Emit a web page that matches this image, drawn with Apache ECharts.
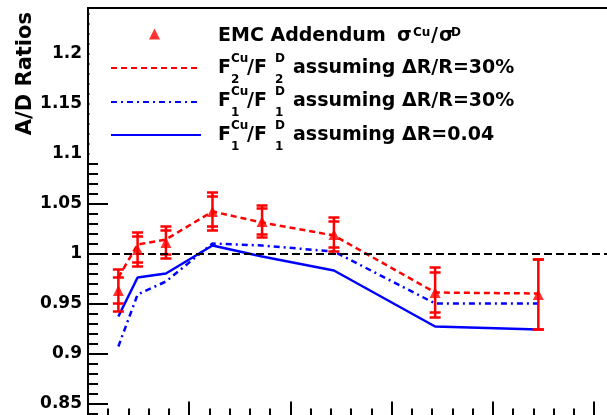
<!DOCTYPE html>
<html><head><meta charset="utf-8">
<script src="https://cdn.jsdelivr.net/npm/echarts@6/dist/echarts.min.js"></script>
<style>html,body{margin:0;padding:0;background:#fff}#c{width:607px;height:415px}</style>
</head><body><div id="c"></div>
<script>
// ---- data ----
const xValues   = [0.330, 0.349, 0.377, 0.423, 0.472, 0.543, 0.643, 0.745];
const emcRatio  = [0.963, 1.004, 1.011, 1.042, 1.032, 1.019, 0.961, 0.959];
const emcErrIn  = [0.013, 0.013, 0.012, 0.015, 0.013, 0.013, 0.020, 0.035];
const emcErrOut = [0.021, 0.017, 0.016, 0.019, 0.016, 0.017, 0.025, 0.035];
const f2Ratio30 = [0.976, 1.009, 1.014, 1.042, 1.031, 1.018, 0.961, 0.960];
const f1Ratio30 = [0.907, 0.959, 0.972, 1.010, 1.008, 1.002, 0.950, 0.950];
const f1RatioDR = [0.937, 0.976, 0.980, 1.008, 0.997, 0.983, 0.927, 0.924];
const refLine   = 1.0;
const yTickLabels = ['0.85','0.9','0.95','1','1.05','1.1','1.15','1.2'];

const FONT = 'DejaVu Sans';
const pair = (ys) => xValues.map((x, i) => [x, ys[i]]);

const chart = echarts.init(document.getElementById('c'), null, {renderer: 'canvas'});

function t(x, base, s, size) {
  return {type: 'text', z: 6, x: x, y: base - 0.35 * size,
    style: {text: s, font: 'bold ' + size + 'px "' + FONT + '"', fill: '#000',
      align: 'left', verticalAlign: 'middle', textAlign: 'left', textVerticalAlign: 'middle'}};
}
function fLine(base, sub, tail) {
  return [
    t(218, base, 'F', 19), t(231, base - 12, 'Cu', 12), t(231, base + 9, sub, 12),
    t(247, base, '/F', 19), t(275, base - 12, 'D', 12), t(275, base + 9, sub, 12),
    t(293, base, 'assuming', 19), t(402, base, tail, 19)
  ];
}

const graphics = [
  {type: 'rect', z: 3, shape: {x: 89.5, y: 9.5, width: 520, height: 149}, style: {fill: '#fff'}, silent: true},
  {type: 'text', z: 6, x: 26, y: 12, rotation: Math.PI / 2,
    style: {text: 'A/D Ratios', font: 'bold 21px "' + FONT + '"', fill: '#000',
      align: 'right', verticalAlign: 'middle', textAlign: 'right', textVerticalAlign: 'middle'}},
  t(218, 43, 'EMC Addendum', 19), t(397, 43, 'σ', 19), t(413, 37, 'Cu', 12),
  t(431, 43, '/', 19), t(439, 43, 'σ', 19), t(451, 37, 'D', 12)
].concat(fLine(75, '2', 'ΔR/R=30%'), fLine(108, '1', 'ΔR/R=30%'), fLine(142, '1', 'ΔR=0.04'));

function legendAt(name, top, h, left, w, hideSym) {
  const l = {data: [name], left: left, top: top - h / 2, itemWidth: w, itemHeight: h, padding: 0,
    itemGap: 0, selectedMode: false, z: 10, formatter: () => '', textStyle: {fontSize: 1}};
  if (hideSym) l.itemStyle = {opacity: 0, color: 'rgba(0,0,0,0)', borderWidth: 0};
  return l;
}

const option = {
  animation: false,
  backgroundColor: '#fff',
  grid: {left: 88, top: 8, right: -88.2, bottom: -38.5, outerBoundsMode: 'none', containLabel: false,
    show: true, borderColor: '#000', borderWidth: 2, backgroundColor: 'transparent'},
  xAxis: {
    type: 'value', min: 0.3, max: 0.9, interval: 0.1, offset: -35,
    axisLine: {show: true, lineStyle: {color: '#000', width: 2}},
    axisTick: {show: true, inside: true, length: 17, lineStyle: {color: '#000', width: 2}},
    minorTick: {show: true, splitNumber: 5, length: 10, lineStyle: {color: '#000', width: 2}},
    axisLabel: {show: false}, splitLine: {show: false}
  },
  yAxis: {
    type: 'value', min: 0.8, max: 1.2455, interval: 0.05,
    axisLine: {show: true, lineStyle: {color: '#000', width: 2}},
    axisTick: {show: true, inside: true, length: 20, lineStyle: {color: '#000', width: 2}},
    minorTick: {show: true, splitNumber: 5, length: 10, lineStyle: {color: '#000', width: 2}},
    splitLine: {show: false},
    axisLabel: {show: true, margin: 6, showMaxLabel: false, color: '#000',
      fontFamily: FONT, fontWeight: 'bold', fontSize: 17,
      formatter: (v) => { const s = String(Math.round(v * 100) / 100); return yTickLabels.indexOf(s) >= 0 ? s : ''; }}
  },
  legend: [
    legendAt('EMC Addendum', 34, 11, 149, 11, false),
    legendAt('F2 dR/R=30%', 68, 14, 110, 90, true),
    legendAt('F1 dR/R=30%', 102, 14, 110, 90, true),
    legendAt('F1 dR=0.04', 135, 14, 110, 90, true)
  ],
  graphic: graphics,
  series: [
    {name: 'F1 dR=0.04', type: 'line', data: pair(f1RatioDR), symbol: 'none', z: 3,
      lineStyle: {color: '#0000ff', width: 2.5, type: 'solid'}, itemStyle: {color: '#0000ff'},
      markLine: {silent: true, symbol: ['none', 'none'], label: {show: false},
        lineStyle: {color: '#000', width: 2, type: [8, 4]}, data: [{yAxis: refLine}]}},
    {name: 'F1 dR/R=30%', type: 'line', data: pair(f1Ratio30), symbol: 'none', z: 3,
      lineStyle: {color: '#0000ff', width: 2.5, type: [6, 4, 2, 4]}, itemStyle: {color: '#0000ff'}},
    {name: 'F2 dR/R=30%', type: 'line', data: pair(f2Ratio30), symbol: 'none', z: 3,
      lineStyle: {color: '#ff0000', width: 2.5, type: [6, 4]}, itemStyle: {color: '#ff0000'}},
    {name: 'errors', type: 'custom', z: 4,
      data: xValues.map((x, i) => [x, emcRatio[i], emcErrIn[i], emcErrOut[i]]),
      encode: {x: 0, y: 1},
      renderItem: function (params, api) {
        const x = api.value(0), y = api.value(1), ei = api.value(2), eo = api.value(3);
        const top = api.coord([x, y + eo]), bot = api.coord([x, y - eo]);
        const ti = api.coord([x, y + ei]), bi = api.coord([x, y - ei]);
        const hw = 5.5;
        const st = {stroke: '#ff0000', lineWidth: 2.5, fill: null};
        const cap = (p) => ({type: 'line', shape: {x1: p[0] - hw, y1: p[1], x2: p[0] + hw, y2: p[1]}, style: st});
        return {type: 'group', children: [
          {type: 'line', shape: {x1: top[0], y1: top[1], x2: bot[0], y2: bot[1]}, style: st},
          cap(top), cap(bot), cap(ti), cap(bi)
        ]};
      }},
    {name: 'EMC Addendum', type: 'scatter', data: pair(emcRatio), symbol: 'triangle', symbolSize: 11, z: 5,
      itemStyle: {color: '#ff0000'}}
  ]
};
chart.setOption(option);
</script></body></html>
